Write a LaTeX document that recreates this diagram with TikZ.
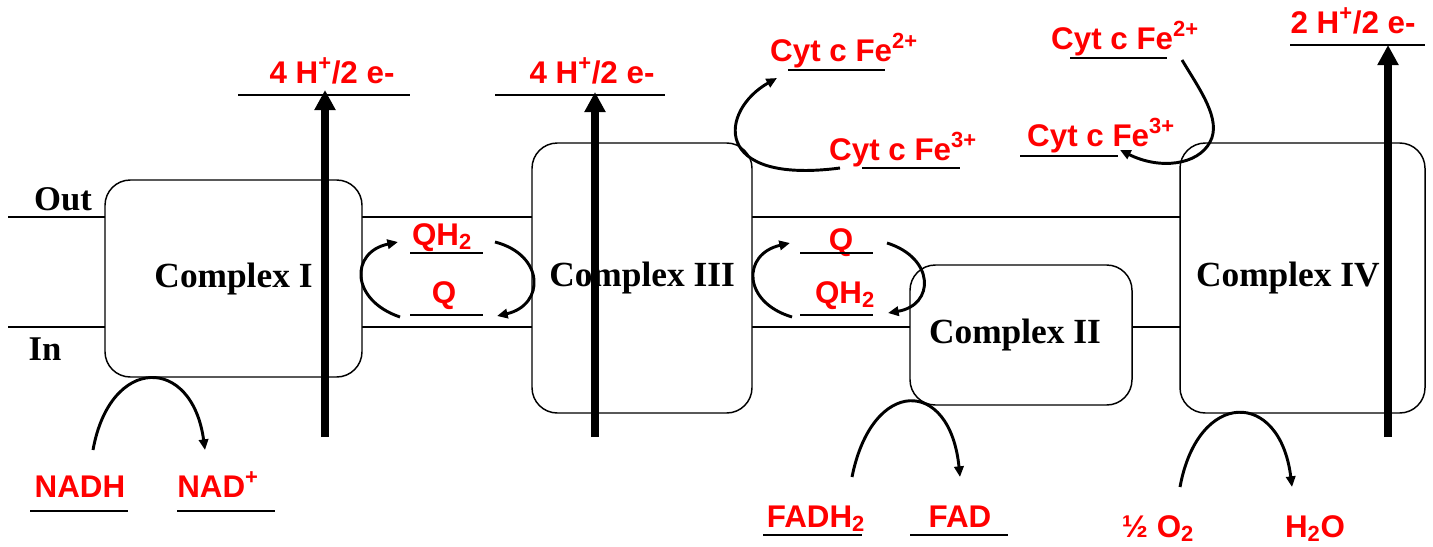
\documentclass[tikz,border=0pt]{standalone}
\usepackage{fontspec}
\setmainfont{Liberation Serif}
\newfontfamily\chemfont{Liberation Sans}
\usetikzlibrary{arrows.meta}

\tikzset{every picture/.style={line width=0.75pt}}
\tikzset{
  memb/.style={line width=1.1pt},
  cplx/.style={draw, line width=1.1pt, rounded corners=19pt, fill=white, inner sep=0pt,
    font=\fontsize{26.5}{26.5}\bfseries\selectfont},
  side/.style={font=\fontsize{26}{26}\bfseries\selectfont, inner sep=0pt, anchor=base},
  chem/.style={text=red, font=\chemfont\fontsize{23.5}{23.5}\bfseries\selectfont, inner sep=0pt, anchor=base},
  uline/.style={line width=1.1pt},
  pump/.style={line width=6pt, -{Triangle[length=15pt,width=15pt]}},
  flow/.style={line width=2.2pt, -{Triangle[length=8pt,width=7pt]}},
}

\begin{document}
\begin{tikzpicture}[x=0.75pt,y=0.75pt,yscale=-1,xscale=1]
    \useasboundingbox (0,0) rectangle (1433,546);

    % membrane
    \draw[memb] (8,217) -- (1180,217);
    \draw[memb] (8,327) -- (1180,327);
    \node[side] (lout) at (63,210) {Out};
    \node[side] (lin) at (45,360) {In};

    % complexes
    \node[cplx, minimum width=192.75pt, minimum height=147.75pt] (cI) at (233.5,278.5) {Complex I};
    \node[cplx, minimum width=165pt, minimum height=202.5pt] (cIII) at (642,278) {Complex III};
    \node[cplx, minimum width=166.5pt, minimum height=105pt] (cII) at (1021,335) {\raisebox{-5pt}{Complex II}\hspace*{9pt}};
    \node[cplx, minimum width=183.75pt, minimum height=202.5pt] (cIV) at (1302.5,278) {Complex IV\hspace*{22pt}};

    % proton pumping
    \node[chem] (hI) at (332,83) {4 H\textsuperscript{+}/2 e-};
    \node[chem] (hIII) at (592,83) {4 H\textsuperscript{+}/2 e-};
    \node[chem] (hIV) at (1353,33) {2 H\textsuperscript{+}/2 e-};
    \draw[uline] (238,95) -- (410,95);
    \draw[uline] (495,95) -- (665,95);
    \draw[uline] (1290,45) -- (1425,45);
    \coordinate (bI) at (325,437);
    \coordinate (bIII) at (595,437);
    \coordinate (bIV) at (1388,437);
    \draw[pump] (bI) -- (325,90);
    \draw[pump] (bIII) -- (595,92);
    \draw[pump] (bIV) -- (1388,45);

    % quinone pools
    \node[chem] (qhA) at (442,245) {QH\textsubscript{2}};
    \node[chem] (qA) at (444,303) {Q};
    \draw[uline] (410,253) -- (483,253);
    \draw[uline] (410,315) -- (483,315);
    \draw[flow] (400,317) .. controls (350,300) and (350,252) .. (398,242);
    \draw[flow] (495,242) .. controls (545,255) and (545,305) .. (497,316);

    \node[chem] (qB) at (841,250) {Q};
    \node[chem] (qhB) at (845,303) {QH\textsubscript{2}};
    \draw[uline] (800,253) -- (873,253);
    \draw[uline] (800,315) -- (873,315);
    \draw[flow] (792,317) .. controls (742,302) and (742,254) .. (790,243);
    \draw[flow] (887,243) .. controls (935,258) and (935,305) .. (888,313);

    % cytochrome c
    \node[chem] (cytA2) at (844,61) {Cyt c Fe\textsuperscript{2+}};
    \node[chem] (cytA3) at (903,160) {Cyt c Fe\textsuperscript{3+}};
    \draw[uline] (788,70) -- (885,70);
    \draw[uline] (862,168) -- (960,168);
    \draw[flow] (840,168) .. controls (710,185) and (720,110) .. (777,78);

    \node[chem] (cytB2) at (1125,49) {Cyt c Fe\textsuperscript{2+}};
    \node[chem] (cytB3) at (1101,146) {Cyt c Fe\textsuperscript{3+}};
    \draw[uline] (1070,58) -- (1167,58);
    \draw[uline] (1020,156) -- (1118,156);
    \draw[flow] (1182,60) .. controls (1200,90) and (1222,120) .. (1210,142)
        .. controls (1198,165) and (1160,170) .. (1120,150);

    % substrates
    \node[chem] (nadh) at (80,497) {NADH};
    \node[chem] (nad) at (218,497) {NAD\textsuperscript{+}};
    \draw[uline] (30,511) -- (128,511);
    \draw[uline] (177,511) -- (275,511);
    \draw[flow] (93,450) .. controls (110,355) and (192,355) .. (205,450);

    \node[chem] (fadh) at (816,527) {FADH\textsubscript{2}};
    \node[chem] (fad) at (960,527) {FAD};
    \draw[uline] (763,535) -- (862,535);
    \draw[uline] (910,535) -- (1008,535);
    \draw[flow] (852,477) .. controls (872,377) and (950,377) .. (960,477);

    \node[chem] (oxy) at (1158,537) {½ O\textsubscript{2}};
    \node[chem] (water) at (1315,537) {H\textsubscript{2}O};
    \draw[flow] (1180,487) .. controls (1198,389) and (1280,389) .. (1292,487);
\end{tikzpicture}
\end{document}
